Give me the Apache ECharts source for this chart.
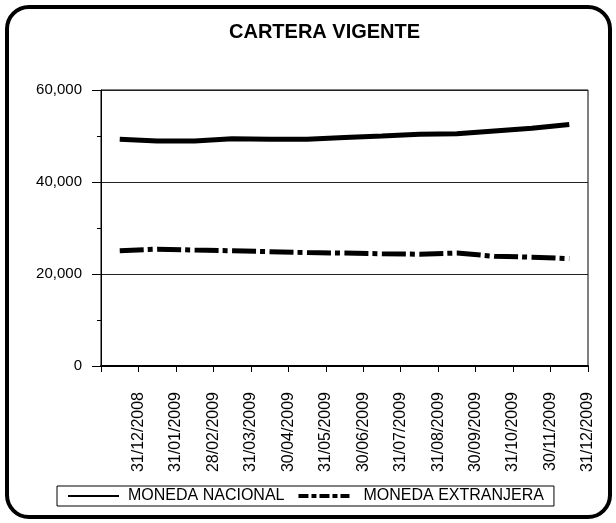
<!DOCTYPE html>
<html>
<head>
<meta charset="utf-8">
<script src="https://cdn.jsdelivr.net/npm/echarts@6/dist/echarts.min.js"></script>
<style>
  html, body { margin: 0; padding: 0; background: #fff; }
  #myChart { width: 616px; height: 523px; }
</style>
</head>
<body>
<div id="myChart"></div>
<script>
  // fechas de cierre mensual
  var fechas = ['31/12/2008', '31/01/2009', '28/02/2009', '31/03/2009', '30/04/2009', '31/05/2009', '30/06/2009',
    '31/07/2009', '31/08/2009', '30/09/2009', '31/10/2009', '30/11/2009', '31/12/2009'];
  var monedaNacional = [49300, 48900, 48900, 49400, 49300, 49300, 49700, 50000, 50400, 50500, 51100, 51700, 52500];
  var monedaExtranjera = [25050, 25400, 25200, 25050, 24850, 24650, 24550, 24400, 24300, 24550, 23850, 23650, 23350];
  var yMin = 0, yMax = 60000, yStep = 20000;

  var fuente = 'Liberation Sans, Arial, sans-serif';
  // etiquetas en los limites de cada categoria
  var etiquetas = [''].concat(fechas);

  var myChart = echarts.init(document.getElementById('myChart'));
  myChart.setOption({
    animation: false,
    backgroundColor: '#fff',
    color: ['#000', '#000'],
    textStyle: { fontFamily: fuente },
    title: {
      text: 'CARTERA VIGENTE',
      left: 229,
      top: 22,
      padding: 0,
      textStyle: { fontSize: 20, fontWeight: 'bold', color: '#000', fontFamily: fuente }
    },
    graphic: [{
      type: 'rect',
      shape: { x: 7, y: 7, width: 603, height: 510, r: 22 },
      style: { fill: 'none', stroke: '#000', lineWidth: 4 },
      silent: true
    }],
    legend: {
      left: 57,
      top: 486,
      padding: [2, 10, 2, 10],
      borderColor: '#000',
      borderWidth: 1,
      itemWidth: 51,
      itemHeight: 16,
      itemGap: 12,
      textStyle: { fontSize: 16, color: '#000', fontFamily: fuente, padding: [0, 0, 0, 4] },
      data: [
        { name: 'MONEDA NACIONAL', itemStyle: { opacity: 0 }, lineStyle: { width: 2, color: '#000', type: 'solid' } },
        { name: 'MONEDA EXTRANJERA', itemStyle: { opacity: 0 }, textStyle: { padding: [0, 0, 0, 9] },
          lineStyle: { width: 4, color: '#000', type: [10, 3, 5, 3] } }
      ]
    },
    grid: {
      left: 101,
      top: 90,
      width: 487,
      height: 276,
      show: true,
      borderColor: '#000',
      borderWidth: 1
    },
    xAxis: [
      {
        type: 'category',
        data: fechas,
        boundaryGap: true,
        axisLine: { lineStyle: { color: '#000', width: 2 } },
        axisTick: { alignWithLabel: true, length: 3, lineStyle: { color: '#000' } },
        axisLabel: { show: false },
        splitLine: { show: false }
      },
      {
        type: 'category',
        data: etiquetas,
        boundaryGap: false,
        position: 'bottom',
        axisLine: { show: false },
        axisTick: { length: 6, interval: 0, lineStyle: { color: '#000' } },
        axisLabel: { rotate: 90, interval: 0, margin: 26, fontSize: 16, color: '#000', fontFamily: fuente },
        splitLine: { show: false }
      }
    ],
    yAxis: {
      type: 'value',
      min: yMin,
      max: yMax,
      interval: yStep,
      axisLine: { show: true, lineStyle: { color: '#000', width: 1 } },
      axisTick: { show: true, length: 9, lineStyle: { color: '#000' } },
      minorTick: { show: true, splitNumber: 2, length: 4, lineStyle: { color: '#000' } },
      axisLabel: { margin: 19, fontSize: 15, color: '#000', fontFamily: fuente },
      splitLine: { show: true, lineStyle: { color: '#222', width: 1 } }
    },
    series: [
      {
        name: 'MONEDA NACIONAL',
        type: 'line',
        xAxisIndex: 0,
        data: monedaNacional,
        symbol: 'none',
        itemStyle: { color: '#000' },
        lineStyle: { color: '#000', width: 5 }
      },
      {
        name: 'MONEDA EXTRANJERA',
        type: 'line',
        xAxisIndex: 0,
        data: monedaExtranjera,
        symbol: 'none',
        itemStyle: { color: '#000' },
        lineStyle: { color: '#000', width: 5, type: [24, 4, 5, 4.46], cap: 'butt' }
      }
    ]
  });
</script>
</body>
</html>
